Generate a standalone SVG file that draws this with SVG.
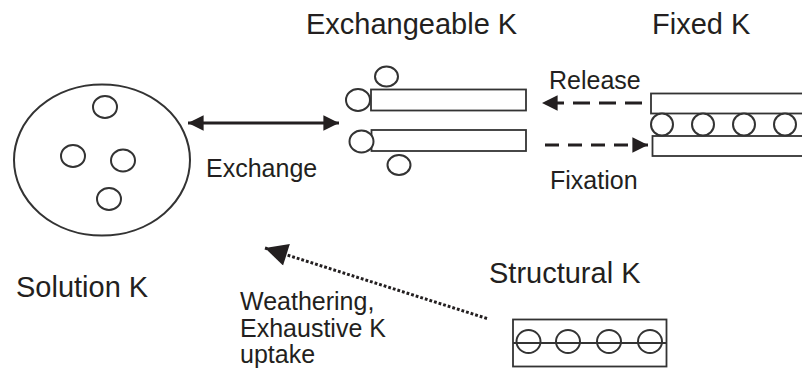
<svg xmlns="http://www.w3.org/2000/svg" width="802" height="374" viewBox="0 0 802 374">
<style>
.t{font-family:"Liberation Sans",Arial,sans-serif;fill:#231f20}
.title{font-size:29px}
.lab{font-size:25px}
.o{fill:#fff;stroke:#333;stroke-width:2}
.r{fill:#fff;stroke:#333;stroke-width:1.8}
.c{fill:none;stroke:#231f20;stroke-width:3}
</style>
<defs>
<marker id="ah" viewBox="0 0 10 10" refX="10" refY="5" markerWidth="6" markerHeight="5.2" markerUnits="strokeWidth" orient="auto-start-reverse">
<path d="M0,0 L10,5 L0,10 z" fill="#231f20"/>
</marker>
<marker id="ahb" viewBox="0 0 10 10" refX="10" refY="5" markerWidth="9" markerHeight="7.5" markerUnits="strokeWidth" orient="auto">
<path d="M0,0 L10,5 L0,10 z" fill="#231f20"/>
</marker>
</defs>

<g id="solution">
<ellipse class="o" cx="102" cy="160" rx="88" ry="75.5"/>
<ellipse class="o" cx="105" cy="107" rx="12" ry="11"/>
<ellipse class="o" cx="73" cy="156" rx="12" ry="11"/>
<ellipse class="o" cx="123" cy="160.5" rx="12" ry="11"/>
<ellipse class="o" cx="109" cy="199" rx="12" ry="11"/>
<text class="t title" x="16" y="297">Solution K</text>
</g>

<g id="exchangeable">
<text class="t title" x="306" y="34">Exchangeable K</text>
<rect class="r" x="371" y="89.5" width="155" height="21"/>
<rect class="r" x="371.5" y="130" width="154.5" height="21"/>
<ellipse class="o" cx="386.5" cy="76.5" rx="11.5" ry="10"/>
<ellipse class="o" cx="358" cy="100" rx="12" ry="11"/>
<ellipse class="o" cx="361.5" cy="141.5" rx="12" ry="11"/>
<ellipse class="o" cx="399" cy="165" rx="11.5" ry="10"/>
</g>

<g id="fixed">
<text class="t title" x="652" y="34">Fixed K</text>
<rect class="r" x="651" y="93.5" width="160" height="20"/>
<rect class="r" x="652.5" y="136" width="160" height="20"/>
<ellipse class="o" cx="662" cy="124.5" rx="11" ry="11"/>
<ellipse class="o" cx="703" cy="124.5" rx="11" ry="11"/>
<ellipse class="o" cx="744" cy="124.5" rx="11" ry="11"/>
<ellipse class="o" cx="785" cy="124.5" rx="11" ry="11"/>
</g>

<g id="structural">
<text class="t title" x="489" y="283">Structural K</text>
<rect class="r" x="513" y="319.5" width="153.5" height="47"/>
<ellipse class="o" cx="528.5" cy="341.5" rx="12" ry="11.5"/>
<ellipse class="o" cx="568" cy="341.5" rx="12" ry="11.5"/>
<ellipse class="o" cx="609" cy="341.5" rx="12" ry="11.5"/>
<ellipse class="o" cx="650" cy="341.5" rx="12" ry="11.5"/>
<line x1="513" y1="343" x2="666.5" y2="343" stroke="#333" stroke-width="1.8"/>
</g>

<g id="connectors">
<line class="c" x1="188" y1="123" x2="339" y2="123" marker-start="url(#ah)" marker-end="url(#ah)"/>
<line class="c" x1="642" y1="103" x2="542" y2="103" stroke-dasharray="17 9" marker-end="url(#ah)"/>
<line class="c" x1="545" y1="145" x2="648" y2="145" stroke-dasharray="14 9" marker-end="url(#ah)"/>
<line class="c" x1="487" y1="318.5" x2="265" y2="248" stroke-dasharray="2.8 2" stroke-width="3.4" marker-end="url(#ahb)"/>
<text class="t lab" x="206" y="177">Exchange</text>
<text class="t lab" x="549" y="89">Release</text>
<text class="t lab" x="550" y="189">Fixation</text>
<text class="t lab" x="240" y="310">Weathering,</text>
<text class="t lab" x="240" y="337">Exhaustive K</text>
<text class="t lab" x="240" y="363">uptake</text>
</g>
</svg>
